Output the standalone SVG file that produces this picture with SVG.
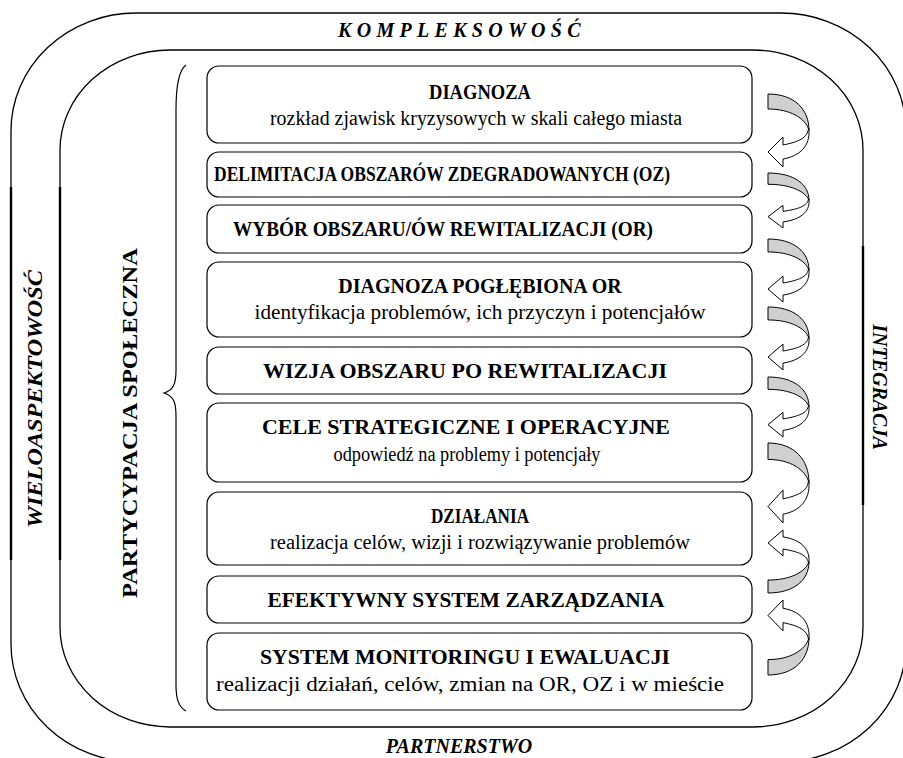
<svg xmlns="http://www.w3.org/2000/svg" width="903" height="758" viewBox="0 0 903 758">
<style>
.frame{fill:none;stroke:#000;stroke-width:1.3}
.thick{stroke:#000;stroke-width:2.4}
.box{fill:#fff;stroke:#000;stroke-width:1.2}
.t{font-family:"Liberation Serif","Times New Roman",serif;font-size:20px;fill:#000;text-anchor:middle}
.b{font-weight:bold}
.side{font-family:"Liberation Serif","Times New Roman",serif;font-size:20px;font-weight:bold;font-style:italic;fill:#000}
.gray{fill:#d0d0d0;stroke:#000;stroke-width:1}
.wh{fill:#fff;stroke:#000;stroke-width:1}
</style>
<defs>
<g id="arr">
<path class="gray" vector-effect="non-scaling-stroke" d="M0 0 C27 0 41 16 41 36 C37 24 22 15 0 15 Z"/>
<path class="wh" vector-effect="non-scaling-stroke" d="M40.5 34 C40 44 30 48 15 51 L15 43 L0 58 L15 73 L15 65 C32 62 42 52 41 36 Z"/>
</g>
</defs>
<rect x="0" y="0" width="903" height="758" fill="#fff"/>
<g id="frames">
<rect class="frame" x="11" y="13" width="895" height="749" rx="125" ry="118"/>
<rect class="frame" x="60" y="50" width="803" height="677" rx="110" ry="100"/>
<line class="thick" x1="11" y1="187" x2="11" y2="560"/>
<line class="thick" x1="60" y1="187" x2="60" y2="560"/>
<line class="thick" x1="863" y1="246" x2="863" y2="505"/>
</g>
<g id="labels">
<text class="side" x="338" y="37" letter-spacing="5.3" font-size="19">KOMPLEKSOWOŚĆ</text>
<text class="side" x="459" y="753" text-anchor="middle" font-size="19">PARTNERSTWO</text>
<text class="side" transform="translate(42 399) rotate(-90)" text-anchor="middle" textLength="258" lengthAdjust="spacingAndGlyphs">WIELOASPEKTOWOŚĆ</text>
<text class="side" transform="translate(873 387) rotate(90)" text-anchor="middle">INTEGRACJA</text>
<text class="t b" transform="translate(137 423) rotate(-90)" font-size="22" textLength="350" lengthAdjust="spacingAndGlyphs">PARTYCYPACJA SPOŁECZNA</text>
</g>
<g id="brace">
<path fill="none" stroke="#000" stroke-width="1.2" d="M186 65 C179 70 176 85 176 110 L176 370 C176 385 173 390 164 393 C173 396 176 401 176 416 L176 685 C176 700 179 707 186 711"/>
</g>
<g id="n1"><rect class="box" x="207" y="66" width="545" height="77" rx="12"/>
<text class="t b" x="480" y="99" font-size="18.5" textLength="102" lengthAdjust="spacingAndGlyphs">DIAGNOZA</text>
<text class="t" x="476" y="125" textLength="412" lengthAdjust="spacingAndGlyphs">rozkład zjawisk kryzysowych w skali całego miasta</text></g>
<g id="n2"><rect class="box" x="207" y="152" width="545" height="45" rx="12"/>
<text class="t b" x="442" y="181" font-size="15.8" textLength="456" lengthAdjust="spacingAndGlyphs">DELIMITACJA OBSZARÓW ZDEGRADOWANYCH (OZ)</text></g>
<g id="n3"><rect class="box" x="207" y="205" width="545" height="48" rx="12"/>
<text class="t b" x="443" y="236" font-size="19.3" textLength="420" lengthAdjust="spacingAndGlyphs">WYBÓR OBSZARU/ÓW REWITALIZACJI (OR)</text></g>
<g id="n4"><rect class="box" x="207" y="262" width="545" height="75" rx="12"/>
<text class="t b" x="480" y="293" font-size="18.5">DIAGNOZA POGŁĘBIONA OR</text>
<text class="t" x="480" y="319" font-size="21" textLength="451" lengthAdjust="spacingAndGlyphs">identyfikacja problemów, ich przyczyn i potencjałów</text></g>
<g id="n5"><rect class="box" x="207" y="347" width="545" height="47" rx="12"/>
<text class="t b" x="465" y="378" font-size="21.5" textLength="404" lengthAdjust="spacingAndGlyphs">WIZJA OBSZARU PO REWITALIZACJI</text></g>
<g id="n6"><rect class="box" x="207" y="403" width="545" height="79" rx="12"/>
<text class="t b" x="466" y="434" font-size="21.5" textLength="408" lengthAdjust="spacingAndGlyphs">CELE STRATEGICZNE I OPERACYJNE</text>
<text class="t" x="467" y="461" font-size="18.5" textLength="267" lengthAdjust="spacingAndGlyphs">odpowiedź na problemy i potencjały</text></g>
<g id="n7"><rect class="box" x="207" y="492" width="545" height="73" rx="12"/>
<text class="t b" x="480" y="523" font-size="18" textLength="98" lengthAdjust="spacingAndGlyphs">DZIAŁANIA</text>
<text class="t" x="480" y="549" font-size="20.5" textLength="420" lengthAdjust="spacingAndGlyphs">realizacja celów, wizji i rozwiązywanie problemów</text></g>
<g id="n8"><rect class="box" x="207" y="576" width="545" height="47" rx="12"/>
<text class="t b" x="466" y="607" font-size="21.5" textLength="397" lengthAdjust="spacingAndGlyphs">EFEKTYWNY SYSTEM ZARZĄDZANIA</text></g>
<g id="n9"><rect class="box" x="207" y="633" width="545" height="77" rx="12"/>
<text class="t b" x="465" y="664" font-size="21.5" textLength="410" lengthAdjust="spacingAndGlyphs">SYSTEM MONITORINGU I EWALUACJI</text>
<text class="t" x="470" y="691" font-size="21.5" textLength="508" lengthAdjust="spacingAndGlyphs">realizacji działań, celów, zmian na OR, OZ i w mieście</text></g>
<g id="connectors">
<use href="#arr" transform="translate(768 94) scale(1 1)"/>
<use href="#arr" transform="translate(768 173) scale(1 0.753)"/>
<use href="#arr" transform="translate(768 239) scale(1 0.863)"/>
<use href="#arr" transform="translate(768 307) scale(1 0.863)"/>
<use href="#arr" transform="translate(768 377) scale(1 0.822)"/>
<use href="#arr" transform="translate(768 443) scale(1 1.096)"/>
<use href="#arr" transform="translate(768 593) scale(1 -0.863)"/>
<use href="#arr" transform="translate(768 675) scale(1 -1.027)"/>
</g>
</svg>
